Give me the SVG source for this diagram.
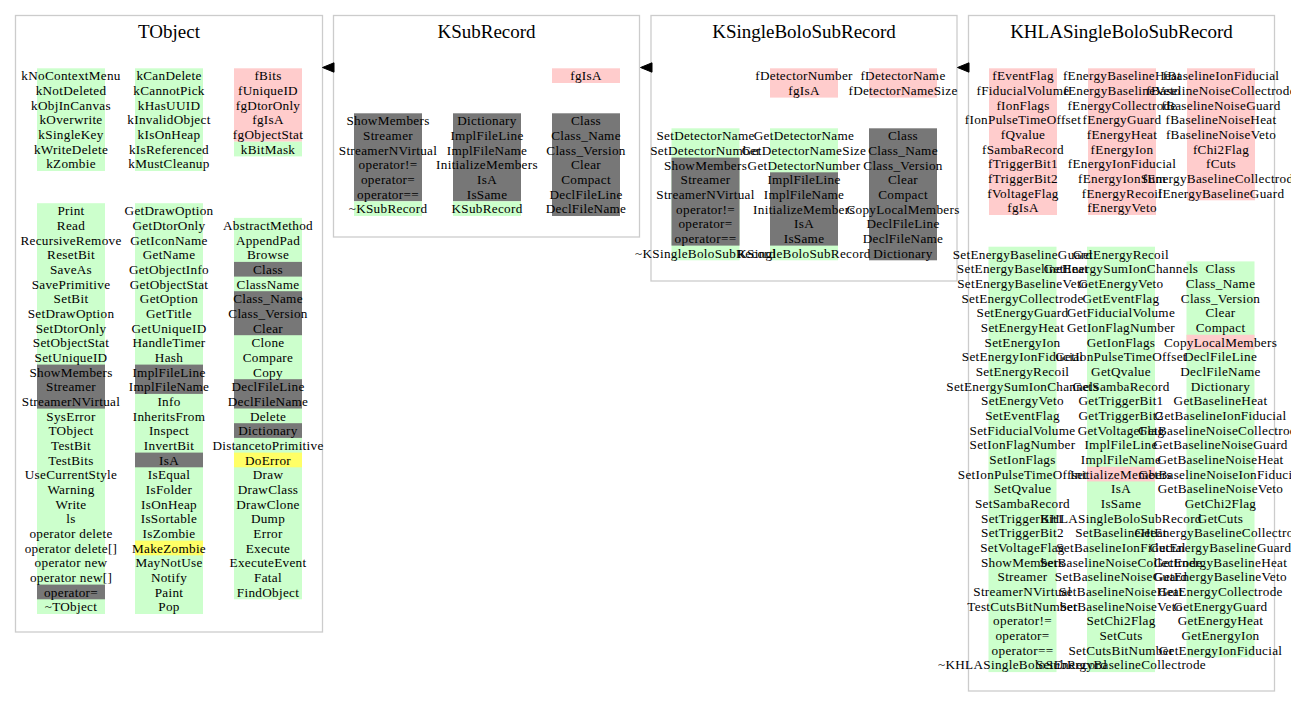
<svg xmlns="http://www.w3.org/2000/svg" width="1291" height="708" viewBox="0 0 1291 708">
<style>
text{font-family:"Liberation Serif","Times New Roman",serif;font-size:13.2px;letter-spacing:0.3px;fill:#000;text-anchor:middle}
.title{font-size:19px;letter-spacing:0}
.cl{fill:none;stroke:#cccccc;stroke-width:1.3}
.g{fill:#ccffcc}.p{fill:#ffcccc}.d{fill:#777777}.y{fill:#ffff66}
.arr{fill:#000;stroke:#000;stroke-width:1}
</style>
<rect width="1291" height="708" fill="#ffffff"/>

<g id="TObject">
<rect class="cl" x="15.5" y="15.5" width="307" height="616.5"/>
<text class="title" x="169" y="37.5">TObject</text>
<rect class="g" x="37" y="68.3" width="68" height="102.7"/>
<rect class="g" x="135" y="68.3" width="68" height="102.7"/>
<rect class="p" x="234" y="68.3" width="68" height="73.4"/>
<rect class="g" x="234" y="141.7" width="68" height="14.7"/>
<text x="71" y="80.3"><tspan x="71">kNoContextMenu</tspan><tspan x="71" dy="14.67">kNotDeleted</tspan><tspan x="71" dy="14.67">kObjInCanvas</tspan><tspan x="71" dy="14.67">kOverwrite</tspan><tspan x="71" dy="14.67">kSingleKey</tspan><tspan x="71" dy="14.67">kWriteDelete</tspan><tspan x="71" dy="14.67">kZombie</tspan></text>
<text x="169" y="80.3"><tspan x="169">kCanDelete</tspan><tspan x="169" dy="14.67">kCannotPick</tspan><tspan x="169" dy="14.67">kHasUUID</tspan><tspan x="169" dy="14.67">kInvalidObject</tspan><tspan x="169" dy="14.67">kIsOnHeap</tspan><tspan x="169" dy="14.67">kIsReferenced</tspan><tspan x="169" dy="14.67">kMustCleanup</tspan></text>
<text x="268" y="80.3"><tspan x="268">fBits</tspan><tspan x="268" dy="14.67">fUniqueID</tspan><tspan x="268" dy="14.67">fgDtorOnly</tspan><tspan x="268" dy="14.67">fgIsA</tspan><tspan x="268" dy="14.67">fgObjectStat</tspan><tspan x="268" dy="14.67">kBitMask</tspan></text>

<rect class="g" x="37" y="203.2" width="68" height="410.8"/>
<rect class="d" x="37" y="364.6" width="68" height="44"/>
<rect class="d" x="37" y="584.6" width="68" height="14.7"/>
<rect class="g" x="135" y="203.2" width="68" height="410.8"/>
<rect class="d" x="135" y="364.6" width="68" height="29.3"/>
<rect class="d" x="135" y="452.6" width="68" height="14.7"/>
<rect class="y" x="135" y="540.6" width="68" height="14.7"/>
<rect class="g" x="234" y="217.9" width="68" height="381.4"/>
<rect class="d" x="234" y="261.9" width="68" height="14.7"/>
<rect class="d" x="234" y="291.2" width="68" height="44"/>
<rect class="d" x="234" y="379.2" width="68" height="29.3"/>
<rect class="d" x="234" y="423.2" width="68" height="14.7"/>
<rect class="y" x="234" y="452.6" width="68" height="14.7"/>
<text x="71" y="215.2"><tspan x="71">Print</tspan><tspan x="71" dy="14.67">Read</tspan><tspan x="71" dy="14.67">RecursiveRemove</tspan><tspan x="71" dy="14.67">ResetBit</tspan><tspan x="71" dy="14.67">SaveAs</tspan><tspan x="71" dy="14.67">SavePrimitive</tspan><tspan x="71" dy="14.67">SetBit</tspan><tspan x="71" dy="14.67">SetDrawOption</tspan><tspan x="71" dy="14.67">SetDtorOnly</tspan><tspan x="71" dy="14.67">SetObjectStat</tspan><tspan x="71" dy="14.67">SetUniqueID</tspan><tspan x="71" dy="14.67">ShowMembers</tspan><tspan x="71" dy="14.67">Streamer</tspan><tspan x="71" dy="14.67">StreamerNVirtual</tspan><tspan x="71" dy="14.67">SysError</tspan><tspan x="71" dy="14.67">TObject</tspan><tspan x="71" dy="14.67">TestBit</tspan><tspan x="71" dy="14.67">TestBits</tspan><tspan x="71" dy="14.67">UseCurrentStyle</tspan><tspan x="71" dy="14.67">Warning</tspan><tspan x="71" dy="14.67">Write</tspan><tspan x="71" dy="14.67">ls</tspan><tspan x="71" dy="14.67">operator delete</tspan><tspan x="71" dy="14.67">operator delete[]</tspan><tspan x="71" dy="14.67">operator new</tspan><tspan x="71" dy="14.67">operator new[]</tspan><tspan x="71" dy="14.67">operator=</tspan><tspan x="71" dy="14.67">~TObject</tspan></text>
<text x="169" y="215.2"><tspan x="169">GetDrawOption</tspan><tspan x="169" dy="14.67">GetDtorOnly</tspan><tspan x="169" dy="14.67">GetIconName</tspan><tspan x="169" dy="14.67">GetName</tspan><tspan x="169" dy="14.67">GetObjectInfo</tspan><tspan x="169" dy="14.67">GetObjectStat</tspan><tspan x="169" dy="14.67">GetOption</tspan><tspan x="169" dy="14.67">GetTitle</tspan><tspan x="169" dy="14.67">GetUniqueID</tspan><tspan x="169" dy="14.67">HandleTimer</tspan><tspan x="169" dy="14.67">Hash</tspan><tspan x="169" dy="14.67">ImplFileLine</tspan><tspan x="169" dy="14.67">ImplFileName</tspan><tspan x="169" dy="14.67">Info</tspan><tspan x="169" dy="14.67">InheritsFrom</tspan><tspan x="169" dy="14.67">Inspect</tspan><tspan x="169" dy="14.67">InvertBit</tspan><tspan x="169" dy="14.67">IsA</tspan><tspan x="169" dy="14.67">IsEqual</tspan><tspan x="169" dy="14.67">IsFolder</tspan><tspan x="169" dy="14.67">IsOnHeap</tspan><tspan x="169" dy="14.67">IsSortable</tspan><tspan x="169" dy="14.67">IsZombie</tspan><tspan x="169" dy="14.67">MakeZombie</tspan><tspan x="169" dy="14.67">MayNotUse</tspan><tspan x="169" dy="14.67">Notify</tspan><tspan x="169" dy="14.67">Paint</tspan><tspan x="169" dy="14.67">Pop</tspan></text>
<text x="268" y="229.9"><tspan x="268">AbstractMethod</tspan><tspan x="268" dy="14.67">AppendPad</tspan><tspan x="268" dy="14.67">Browse</tspan><tspan x="268" dy="14.67">Class</tspan><tspan x="268" dy="14.67">ClassName</tspan><tspan x="268" dy="14.67">Class_Name</tspan><tspan x="268" dy="14.67">Class_Version</tspan><tspan x="268" dy="14.67">Clear</tspan><tspan x="268" dy="14.67">Clone</tspan><tspan x="268" dy="14.67">Compare</tspan><tspan x="268" dy="14.67">Copy</tspan><tspan x="268" dy="14.67">DeclFileLine</tspan><tspan x="268" dy="14.67">DeclFileName</tspan><tspan x="268" dy="14.67">Delete</tspan><tspan x="268" dy="14.67">Dictionary</tspan><tspan x="268" dy="14.67">DistancetoPrimitive</tspan><tspan x="268" dy="14.67">DoError</tspan><tspan x="268" dy="14.67">Draw</tspan><tspan x="268" dy="14.67">DrawClass</tspan><tspan x="268" dy="14.67">DrawClone</tspan><tspan x="268" dy="14.67">Dump</tspan><tspan x="268" dy="14.67">Error</tspan><tspan x="268" dy="14.67">Execute</tspan><tspan x="268" dy="14.67">ExecuteEvent</tspan><tspan x="268" dy="14.67">Fatal</tspan><tspan x="268" dy="14.67">FindObject</tspan></text>
</g>

<g id="KSubRecord">
<rect class="cl" x="333.5" y="15.5" width="306" height="221.5"/>
<text class="title" x="486.5" y="37.5">KSubRecord</text>
<rect class="p" x="552" y="68.3" width="68" height="14.7"/>
<text x="586" y="80.3">fgIsA</text>
<rect class="d" x="354" y="113.3" width="68" height="88"/>
<rect class="g" x="354" y="201.3" width="68" height="14.7"/>
<rect class="d" x="453" y="113.3" width="68" height="88"/>
<rect class="g" x="453" y="201.3" width="68" height="14.7"/>
<rect class="d" x="552" y="113.3" width="68" height="102.7"/>
<text x="388" y="125.3"><tspan x="388">ShowMembers</tspan><tspan x="388" dy="14.67">Streamer</tspan><tspan x="388" dy="14.67">StreamerNVirtual</tspan><tspan x="388" dy="14.67">operator!=</tspan><tspan x="388" dy="14.67">operator=</tspan><tspan x="388" dy="14.67">operator==</tspan><tspan x="388" dy="14.67">~KSubRecord</tspan></text>
<text x="487" y="125.3"><tspan x="487">Dictionary</tspan><tspan x="487" dy="14.67">ImplFileLine</tspan><tspan x="487" dy="14.67">ImplFileName</tspan><tspan x="487" dy="14.67">InitializeMembers</tspan><tspan x="487" dy="14.67">IsA</tspan><tspan x="487" dy="14.67">IsSame</tspan><tspan x="487" dy="14.67">KSubRecord</tspan></text>
<text x="586" y="125.3"><tspan x="586">Class</tspan><tspan x="586" dy="14.67">Class_Name</tspan><tspan x="586" dy="14.67">Class_Version</tspan><tspan x="586" dy="14.67">Clear</tspan><tspan x="586" dy="14.67">Compact</tspan><tspan x="586" dy="14.67">DeclFileLine</tspan><tspan x="586" dy="14.67">DeclFileName</tspan></text>
</g>

<g id="KSingleBoloSubRecord">
<rect class="cl" x="651" y="15.5" width="306" height="265.5"/>
<text class="title" x="804" y="37.5">KSingleBoloSubRecord</text>
<rect class="p" x="770" y="68.3" width="68" height="29.3"/>
<rect class="p" x="869" y="68.3" width="68" height="29.3"/>
<text x="804" y="80.3"><tspan x="804">fDetectorNumber</tspan><tspan x="804" dy="14.67">fgIsA</tspan></text>
<text x="903" y="80.3"><tspan x="903">fDetectorName</tspan><tspan x="903" dy="14.67">fDetectorNameSize</tspan></text>
<rect class="g" x="671.5" y="128.3" width="68" height="132"/>
<rect class="d" x="671.5" y="157.6" width="68" height="88"/>
<rect class="g" x="770" y="128.3" width="68" height="132"/>
<rect class="d" x="770" y="172.3" width="68" height="73.3"/>
<rect class="d" x="869" y="128.3" width="68" height="132"/>
<text x="705.5" y="140.3"><tspan x="705.5">SetDetectorName</tspan><tspan x="705.5" dy="14.67">SetDetectorNumber</tspan><tspan x="705.5" dy="14.67">ShowMembers</tspan><tspan x="705.5" dy="14.67">Streamer</tspan><tspan x="705.5" dy="14.67">StreamerNVirtual</tspan><tspan x="705.5" dy="14.67">operator!=</tspan><tspan x="705.5" dy="14.67">operator=</tspan><tspan x="705.5" dy="14.67">operator==</tspan><tspan x="705.5" dy="14.67">~KSingleBoloSubRecord</tspan></text>
<text x="804" y="140.3"><tspan x="804">GetDetectorName</tspan><tspan x="804" dy="14.67">GetDetectorNameSize</tspan><tspan x="804" dy="14.67">GetDetectorNumber</tspan><tspan x="804" dy="14.67">ImplFileLine</tspan><tspan x="804" dy="14.67">ImplFileName</tspan><tspan x="804" dy="14.67">InitializeMembers</tspan><tspan x="804" dy="14.67">IsA</tspan><tspan x="804" dy="14.67">IsSame</tspan><tspan x="804" dy="14.67">KSingleBoloSubRecord</tspan></text>
<text x="903" y="140.3"><tspan x="903">Class</tspan><tspan x="903" dy="14.67">Class_Name</tspan><tspan x="903" dy="14.67">Class_Version</tspan><tspan x="903" dy="14.67">Clear</tspan><tspan x="903" dy="14.67">Compact</tspan><tspan x="903" dy="14.67">CopyLocalMembers</tspan><tspan x="903" dy="14.67">DeclFileLine</tspan><tspan x="903" dy="14.67">DeclFileName</tspan><tspan x="903" dy="14.67">Dictionary</tspan></text>
</g>

<g id="KHLASingleBoloSubRecord">
<rect class="cl" x="968.5" y="15.5" width="306" height="675.5"/>
<text class="title" x="1121.5" y="37.5">KHLASingleBoloSubRecord</text>
<rect class="p" x="989" y="68.3" width="68" height="146.7"/>
<rect class="p" x="1088" y="68.3" width="68" height="146.7"/>
<rect class="p" x="1187" y="68.3" width="68" height="132"/>
<text x="1023" y="80.3"><tspan x="1023">fEventFlag</tspan><tspan x="1023" dy="14.67">fFiducialVolume</tspan><tspan x="1023" dy="14.67">fIonFlags</tspan><tspan x="1023" dy="14.67">fIonPulseTimeOffset</tspan><tspan x="1023" dy="14.67">fQvalue</tspan><tspan x="1023" dy="14.67">fSambaRecord</tspan><tspan x="1023" dy="14.67">fTriggerBit1</tspan><tspan x="1023" dy="14.67">fTriggerBit2</tspan><tspan x="1023" dy="14.67">fVoltageFlag</tspan><tspan x="1023" dy="14.67">fgIsA</tspan></text>
<text x="1122" y="80.3"><tspan x="1122">fEnergyBaselineHeat</tspan><tspan x="1122" dy="14.67">fEnergyBaselineVeto</tspan><tspan x="1122" dy="14.67">fEnergyCollectrode</tspan><tspan x="1122" dy="14.67">fEnergyGuard</tspan><tspan x="1122" dy="14.67">fEnergyHeat</tspan><tspan x="1122" dy="14.67">fEnergyIon</tspan><tspan x="1122" dy="14.67">fEnergyIonFiducial</tspan><tspan x="1122" dy="14.67">fEnergyIonSum</tspan><tspan x="1122" dy="14.67">fEnergyRecoil</tspan><tspan x="1122" dy="14.67">fEnergyVeto</tspan></text>
<text x="1221" y="80.3"><tspan x="1221">fBaselineIonFiducial</tspan><tspan x="1221" dy="14.67">fBaselineNoiseCollectrode</tspan><tspan x="1221" dy="14.67">fBaselineNoiseGuard</tspan><tspan x="1221" dy="14.67">fBaselineNoiseHeat</tspan><tspan x="1221" dy="14.67">fBaselineNoiseVeto</tspan><tspan x="1221" dy="14.67">fChi2Flag</tspan><tspan x="1221" dy="14.67">fCuts</tspan><tspan x="1221" dy="14.67">fEnergyBaselineCollectrode</tspan><tspan x="1221" dy="14.67">fEnergyBaselineGuard</tspan></text>
<rect class="g" x="988.5" y="246.7" width="68" height="425.4"/>
<rect class="g" x="1087" y="246.7" width="68" height="425.4"/>
<rect class="p" x="1087" y="466.75" width="68" height="14.67"/>
<rect class="g" x="1186.5" y="261.4" width="68" height="396"/>
<rect class="p" x="1186.5" y="334.75" width="68" height="14.67"/>
<text x="1022.5" y="258.7"><tspan x="1022.5">SetEnergyBaselineGuard</tspan><tspan x="1022.5" dy="14.67">SetEnergyBaselineHeat</tspan><tspan x="1022.5" dy="14.67">SetEnergyBaselineVeto</tspan><tspan x="1022.5" dy="14.67">SetEnergyCollectrode</tspan><tspan x="1022.5" dy="14.67">SetEnergyGuard</tspan><tspan x="1022.5" dy="14.67">SetEnergyHeat</tspan><tspan x="1022.5" dy="14.67">SetEnergyIon</tspan><tspan x="1022.5" dy="14.67">SetEnergyIonFiducial</tspan><tspan x="1022.5" dy="14.67">SetEnergyRecoil</tspan><tspan x="1022.5" dy="14.67">SetEnergySumIonChannels</tspan><tspan x="1022.5" dy="14.67">SetEnergyVeto</tspan><tspan x="1022.5" dy="14.67">SetEventFlag</tspan><tspan x="1022.5" dy="14.67">SetFiducialVolume</tspan><tspan x="1022.5" dy="14.67">SetIonFlagNumber</tspan><tspan x="1022.5" dy="14.67">SetIonFlags</tspan><tspan x="1022.5" dy="14.67">SetIonPulseTimeOffset</tspan><tspan x="1022.5" dy="14.67">SetQvalue</tspan><tspan x="1022.5" dy="14.67">SetSambaRecord</tspan><tspan x="1022.5" dy="14.67">SetTriggerBit1</tspan><tspan x="1022.5" dy="14.67">SetTriggerBit2</tspan><tspan x="1022.5" dy="14.67">SetVoltageFlag</tspan><tspan x="1022.5" dy="14.67">ShowMembers</tspan><tspan x="1022.5" dy="14.67">Streamer</tspan><tspan x="1022.5" dy="14.67">StreamerNVirtual</tspan><tspan x="1022.5" dy="14.67">TestCutsBitNumber</tspan><tspan x="1022.5" dy="14.67">operator!=</tspan><tspan x="1022.5" dy="14.67">operator=</tspan><tspan x="1022.5" dy="14.67">operator==</tspan><tspan x="1022.5" dy="14.67">~KHLASingleBoloSubRecord</tspan></text>
<text x="1121" y="258.7"><tspan x="1121">GetEnergyRecoil</tspan><tspan x="1121" dy="14.67">GetEnergySumIonChannels</tspan><tspan x="1121" dy="14.67">GetEnergyVeto</tspan><tspan x="1121" dy="14.67">GetEventFlag</tspan><tspan x="1121" dy="14.67">GetFiducialVolume</tspan><tspan x="1121" dy="14.67">GetIonFlagNumber</tspan><tspan x="1121" dy="14.67">GetIonFlags</tspan><tspan x="1121" dy="14.67">GetIonPulseTimeOffset</tspan><tspan x="1121" dy="14.67">GetQvalue</tspan><tspan x="1121" dy="14.67">GetSambaRecord</tspan><tspan x="1121" dy="14.67">GetTriggerBit1</tspan><tspan x="1121" dy="14.67">GetTriggerBit2</tspan><tspan x="1121" dy="14.67">GetVoltageFlag</tspan><tspan x="1121" dy="14.67">ImplFileLine</tspan><tspan x="1121" dy="14.67">ImplFileName</tspan><tspan x="1121" dy="14.67">InitializeMembers</tspan><tspan x="1121" dy="14.67">IsA</tspan><tspan x="1121" dy="14.67">IsSame</tspan><tspan x="1121" dy="14.67">KHLASingleBoloSubRecord</tspan><tspan x="1121" dy="14.67">SetBaselineHeat</tspan><tspan x="1121" dy="14.67">SetBaselineIonFiducial</tspan><tspan x="1121" dy="14.67">SetBaselineNoiseCollectrode</tspan><tspan x="1121" dy="14.67">SetBaselineNoiseGuard</tspan><tspan x="1121" dy="14.67">SetBaselineNoiseHeat</tspan><tspan x="1121" dy="14.67">SetBaselineNoiseVeto</tspan><tspan x="1121" dy="14.67">SetChi2Flag</tspan><tspan x="1121" dy="14.67">SetCuts</tspan><tspan x="1121" dy="14.67">SetCutsBitNumber</tspan><tspan x="1121" dy="14.67">SetEnergyBaselineCollectrode</tspan></text>
<text x="1220.5" y="273.4"><tspan x="1220.5">Class</tspan><tspan x="1220.5" dy="14.67">Class_Name</tspan><tspan x="1220.5" dy="14.67">Class_Version</tspan><tspan x="1220.5" dy="14.67">Clear</tspan><tspan x="1220.5" dy="14.67">Compact</tspan><tspan x="1220.5" dy="14.67">CopyLocalMembers</tspan><tspan x="1220.5" dy="14.67">DeclFileLine</tspan><tspan x="1220.5" dy="14.67">DeclFileName</tspan><tspan x="1220.5" dy="14.67">Dictionary</tspan><tspan x="1220.5" dy="14.67">GetBaselineHeat</tspan><tspan x="1220.5" dy="14.67">GetBaselineIonFiducial</tspan><tspan x="1220.5" dy="14.67">GetBaselineNoiseCollectrode</tspan><tspan x="1220.5" dy="14.67">GetBaselineNoiseGuard</tspan><tspan x="1220.5" dy="14.67">GetBaselineNoiseHeat</tspan><tspan x="1220.5" dy="14.67">GetBaselineNoiseIonFiducial</tspan><tspan x="1220.5" dy="14.67">GetBaselineNoiseVeto</tspan><tspan x="1220.5" dy="14.67">GetChi2Flag</tspan><tspan x="1220.5" dy="14.67">GetCuts</tspan><tspan x="1220.5" dy="14.67">GetEnergyBaselineCollectrode</tspan><tspan x="1220.5" dy="14.67">GetEnergyBaselineGuard</tspan><tspan x="1220.5" dy="14.67">GetEnergyBaselineHeat</tspan><tspan x="1220.5" dy="14.67">GetEnergyBaselineVeto</tspan><tspan x="1220.5" dy="14.67">GetEnergyCollectrode</tspan><tspan x="1220.5" dy="14.67">GetEnergyGuard</tspan><tspan x="1220.5" dy="14.67">GetEnergyHeat</tspan><tspan x="1220.5" dy="14.67">GetEnergyIon</tspan><tspan x="1220.5" dy="14.67">GetEnergyIonFiducial</tspan></text>
</g>

<g id="connectors">
<polygon class="arr" points="322.5,67.5 334,62.8 334,72.2"/>
<polygon class="arr" points="640.5,67.5 652,62.8 652,72.2"/>
<polygon class="arr" points="957.5,67.5 969,62.8 969,72.2"/>
</g>
</svg>
